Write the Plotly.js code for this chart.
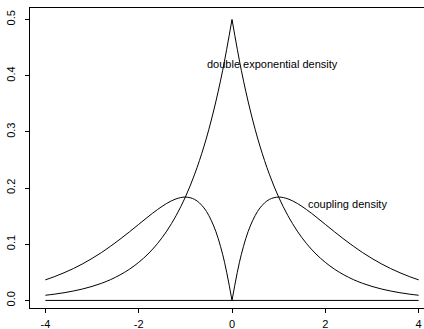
<!DOCTYPE html>
<html>
<head>
<meta charset="utf-8">
<script src="https://cdn.plot.ly/plotly-3.0.1.min.js"></script>
<style>
html,body{margin:0;padding:0;overflow:hidden;background:#fff;}
#chart{width:440px;height:329px;}
</style>
</head>
<body>
<div id="chart"></div>
<script>
// x grid (step 0.2)
const xs = [-4.0,-3.8,-3.6,-3.4,-3.2,-3.0,-2.8,-2.6,-2.4,-2.2,-2.0,-1.8,-1.6,-1.4,-1.2,-1.0,-0.8,-0.6,-0.4,-0.2,0.0,
            0.2,0.4,0.6,0.8,1.0,1.2,1.4,1.6,1.8,2.0,2.2,2.4,2.6,2.8,3.0,3.2,3.4,3.6,3.8,4.0];
// double exponential density
const doubleExp = [0.0092,0.0112,0.0137,0.0167,0.0204,0.0249,0.0304,0.0371,0.0454,0.0554,0.0677,0.0826,0.1009,0.1233,0.1506,0.1839,0.2247,0.2744,0.3352,0.4094,0.5,
                   0.4094,0.3352,0.2744,0.2247,0.1839,0.1506,0.1233,0.1009,0.0826,0.0677,0.0554,0.0454,0.0371,0.0304,0.0249,0.0204,0.0167,0.0137,0.0112,0.0092];
// coupling density
const coupling = [0.0366,0.0425,0.0492,0.0567,0.0652,0.0747,0.0851,0.0966,0.1089,0.1219,0.1353,0.1488,0.1615,0.1726,0.1807,0.1839,0.1797,0.1646,0.1341,0.0819,0.0,
                  0.0819,0.1341,0.1646,0.1797,0.1839,0.1807,0.1726,0.1615,0.1488,0.1353,0.1219,0.1089,0.0966,0.0851,0.0747,0.0652,0.0567,0.0492,0.0425,0.0366];
// baseline
const baseX = [-4, 4];
const baseY = [0, 0];
// ticks
const xTickVals = [-4, -2, 0, 2, 4];
const xTickText = ["-4", "-2", "0", "2", "4"];
const yTickVals = [0, 0.1, 0.2, 0.3, 0.4, 0.5];
const yTickText = ["0.0", "0.1", "0.2", "0.3", "0.4", "0.5"];
// labels
const labels = [
  {text: "double exponential density", x: 0.87, y: 0.421},
  {text: "coupling density", x: 2.47, y: 0.172}
];

const mid = xs.indexOf(0);
const line = {color: "#000", width: 1, shape: "spline", smoothing: 1};
function half(arr, left){ return left ? arr.slice(0, mid+1) : arr.slice(mid); }

const traces = [];
[doubleExp, coupling].forEach(ys => {
  [true, false].forEach(left => {
    traces.push({x: half(xs, left), y: half(ys, left), mode: "lines", line: line, hoverinfo: "skip"});
  });
});
traces.push({x: baseX, y: baseY, mode: "lines", line: {color: "#000", width: 1}, hoverinfo: "skip"});

const font = {family: "Liberation Sans, Arial, sans-serif", size: 11, color: "#000"};

const layout = {
  width: 440, height: 329,
  margin: {l: 30, r: 6, t: 8, b: 21},
  showlegend: false,
  paper_bgcolor: "#fff", plot_bgcolor: "#fff",
  font: font,
  xaxis: {
    range: [-4.33, 4.33], showgrid: false, zeroline: false,
    showline: true, mirror: true, linecolor: "#000", linewidth: 1,
    tickmode: "array", tickvals: xTickVals, ticktext: xTickText,
    ticks: "outside", ticklen: 4, tickcolor: "#000", tickwidth: 1,
    ticklabelstandoff: 2, tickfont: font
  },
  yaxis: {
    range: [-0.0135, 0.5204], showgrid: false, zeroline: false,
    showline: true, mirror: true, linecolor: "#000", linewidth: 1,
    tickmode: "array", tickvals: yTickVals, ticktext: yTickText,
    ticks: "outside", ticklen: 4, tickcolor: "#000", tickwidth: 1,
    tickangle: -90, ticklabelstandoff: 6, tickfont: font
  },
  annotations: labels.map(l => ({
    text: l.text, x: l.x, y: l.y, xref: "x", yref: "y",
    showarrow: false, font: font, xanchor: "center", yanchor: "middle"
  }))
};

Plotly.newPlot("chart", traces, layout, {staticPlot: true, displayModeBar: false});
</script>
</body>
</html>
